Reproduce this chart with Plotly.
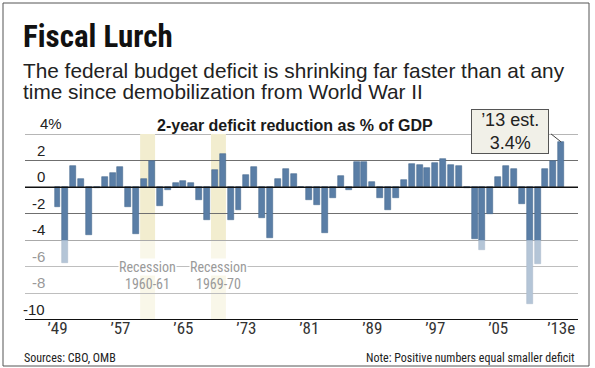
import plotly.graph_objects as go

# ---------------- data ----------------
years = list(range(1949, 2014))
reduction = [
    -1.5, -5.7, 1.6, 0.6, -3.6, -0.1, 0.8, 1.1, 1.5, -1.5,      # 1949-1958
    -3.5, 0.6, 1.95, -1.4, -0.2, 0.3, 0.45, 0.3, -0.95, -2.45,  # 1959-1968
    1.3, 2.5, -2.45, -1.75, 0.9, 1.5, -2.3, -3.8, 0.6, 1.4,     # 1969-1978
    1.0, 0.0, -1.0, -1.35, -3.45, -0.8, 0.85, -0.2, 1.9, 1.9,   # 1979-1988
    0.35, -0.8, -1.7, -0.8, 0.55, 1.75, 1.65, 1.45, 1.85, 2.1,  # 1989-1998
    1.65, 1.6, -0.1, -3.9, -4.7, -2.0, 0.8, 1.6, 1.4, -1.3,     # 1999-2008
    -8.8, -5.8, 1.4, 2.0, 3.4,                                  # 2009-2013
]
xtick_years = [1949, 1957, 1965, 1973, 1981, 1989, 1997, 2005, 2013]
xtick_labels = ["’49", "’57", "’65", "’73", "’81", "’89", "’97", "’05", "’13e"]
ytick_vals = [4, 2, 0, -2, -4, -6, -8, -10]
ytick_labels = ["4%", "2", "0", "-2", "-4", "-6", "-8", "-10"]
recessions = [(1960, 1961, "1960-61"), (1969, 1970, "1969-70")]
est_year, est_value = 2013, 3.4

title = "Fiscal Lurch"
subtitle_lines = ["The federal budget deficit is shrinking far faster than at any",
                  "time since demobilization from World War II"]
chart_label = "2-year deficit reduction as % of GDP"
source_text = "Sources: CBO, OMB"
note_text = "Note: Positive numbers equal smaller deficit"

# ---------------- layout helpers ----------------
W, H = 595, 368
ML, MR, MT, MB = 25, 17, 134, 48
PW, PH = W - ML - MR, H - MT - MB


def xp(px):
    return (px - ML) / PW


def yp(py):
    return (H - MB - py) / PH


NARROW = "Liberation Sans Narrow, Roboto Condensed, Liberation Sans, sans-serif"
SANS = "Liberation Sans, Arial, sans-serif"

fig = go.Figure()
fig.add_trace(go.Bar(
    x=years, y=reduction, width=0.76,
    marker=dict(color="#5a7ea6", line=dict(color="#46698f", width=0.6)),
    hoverinfo="x+y",
))

shapes = []
for start, end, _ in recessions:
    shapes.append(dict(type="rect", xref="x", yref="y", x0=start - 0.5, x1=end + 0.4,
                       y0=-10, y1=4, fillcolor="#f2edcf", line=dict(width=0), layer="below"))
# top gridline at +4
shapes.append(dict(type="line", xref="paper", yref="y", x0=0, x1=1, y0=4, y1=4,
                   line=dict(color="#6f6f6f", width=1), layer="below"))
# fade below -4
shapes.append(dict(type="rect", xref="paper", yref="y", x0=0, x1=1, y0=-10, y1=-4,
                   fillcolor="white", opacity=0.55, line=dict(width=0), layer="above"))
# zero line and baseline
shapes.append(dict(type="line", xref="paper", yref="y", x0=0, x1=1, y0=0, y1=0,
                   line=dict(color="#111", width=1.5), layer="above"))
shapes.append(dict(type="line", xref="paper", yref="y", x0=0, x1=1, y0=-10, y1=-10,
                   line=dict(color="#111", width=2), layer="above"))
# outer frame
shapes.append(dict(type="rect", xref="paper", yref="paper", x0=xp(3), x1=xp(589),
                   y0=yp(366), y1=yp(3), line=dict(color="#555", width=1),
                   fillcolor="rgba(0,0,0,0)"))

ann = []
ann.append(dict(text=f"<b>{title}</b>", xref="paper", yref="paper", x=xp(21), y=yp(36),
                xanchor="left", yanchor="middle", showarrow=False,
                font=dict(family=NARROW, size=31, color="#111")))
for i, line in enumerate(subtitle_lines):
    ann.append(dict(text=line, xref="paper", yref="paper", x=xp(21), y=yp(70.5 + 20.7 * i),
                    xanchor="left", yanchor="middle", showarrow=False,
                    font=dict(family=SANS, size=20.8, color="#222")))
ann.append(dict(text=f"<b>{chart_label}</b>", xref="paper", yref="paper",
                x=xp(295), y=yp(125), xanchor="center", yanchor="middle", showarrow=False,
                font=dict(family=SANS, size=16, color="#1a1a1a")))
for v, t in zip(ytick_vals, ytick_labels):
    col = "#999" if v in (-6, -8) else "#222"
    if t.endswith("%"):
        a = dict(x=xp(38), xanchor="left")
    else:
        a = dict(x=xp(47), xanchor="right")
    a.update(text=t, xref="paper", yref="y", y=v, yanchor="bottom", yshift=0, showarrow=False,
             font=dict(family=SANS, size=15, color=col))
    ann.append(a)
for start, end, label in recessions:
    cx = (start - 0.5 + end + 0.4) / 2
    ann.append(dict(text="Recession", xref="x", yref="y", x=cx, y=-6, yanchor="middle",
                    showarrow=False, bgcolor="white", borderpad=0,
                    font=dict(family=NARROW, size=14, color="#9a9a9a")))
    ann.append(dict(text=label, xref="x", yref="y", x=cx, y=-7.3, yanchor="middle",
                    showarrow=False, font=dict(family=NARROW, size=14, color="#9a9a9a")))

# callout: pointer line and boxed two-line label
ann.append(dict(text="", x=est_year, y=est_value, xref="x", yref="y",
                ax=-11.7, ay=-9.3, showarrow=True, arrowhead=0, arrowwidth=1,
                arrowcolor="#444", standoff=0))
ann.append(dict(text=f"’{est_year % 100} est.<br>{est_value}%", x=est_year, y=est_value,
                xref="x", yref="y", xshift=-50.85, yshift=10.65,
                xanchor="center", yanchor="middle", width=74.3, height=41.3,
                align="center", valign="middle",
                bgcolor="#f1f0e8", bordercolor="#555", borderwidth=1, borderpad=1,
                showarrow=False, font=dict(family=SANS, size=18, color="#222")))

ann.append(dict(text=source_text, xref="paper", yref="paper", x=xp(22), y=yp(358),
                xanchor="left", yanchor="middle", showarrow=False,
                font=dict(family=NARROW, size=12, color="#222")))
ann.append(dict(text=note_text, xref="paper", yref="paper",
                x=xp(577), y=yp(358), xanchor="right", yanchor="middle", showarrow=False,
                font=dict(family=NARROW, size=12, color="#222")))

fig.update_layout(
    width=W, height=H, margin=dict(l=ML, r=MR, t=MT, b=MB),
    paper_bgcolor="white", plot_bgcolor="white", showlegend=False,
    bargap=0,
    xaxis=dict(range=[1944.87, 2015.14], tickvals=xtick_years, ticktext=xtick_labels,
               showgrid=False, zeroline=False, showline=False, ticks="",
               ticklabelstandoff=-4,
               tickfont=dict(family=NARROW, size=17, color="#333")),
    yaxis=dict(range=[-10, 4], tickvals=ytick_vals, showticklabels=False,
               showgrid=True, gridcolor="#6f6f6f", gridwidth=1, zeroline=False,
               showline=False, ticks=""),
    shapes=shapes, annotations=ann,
)

fig.write_html("out.html", post_script="document.body.style.margin='0';",
               config={"displayModeBar": False})
